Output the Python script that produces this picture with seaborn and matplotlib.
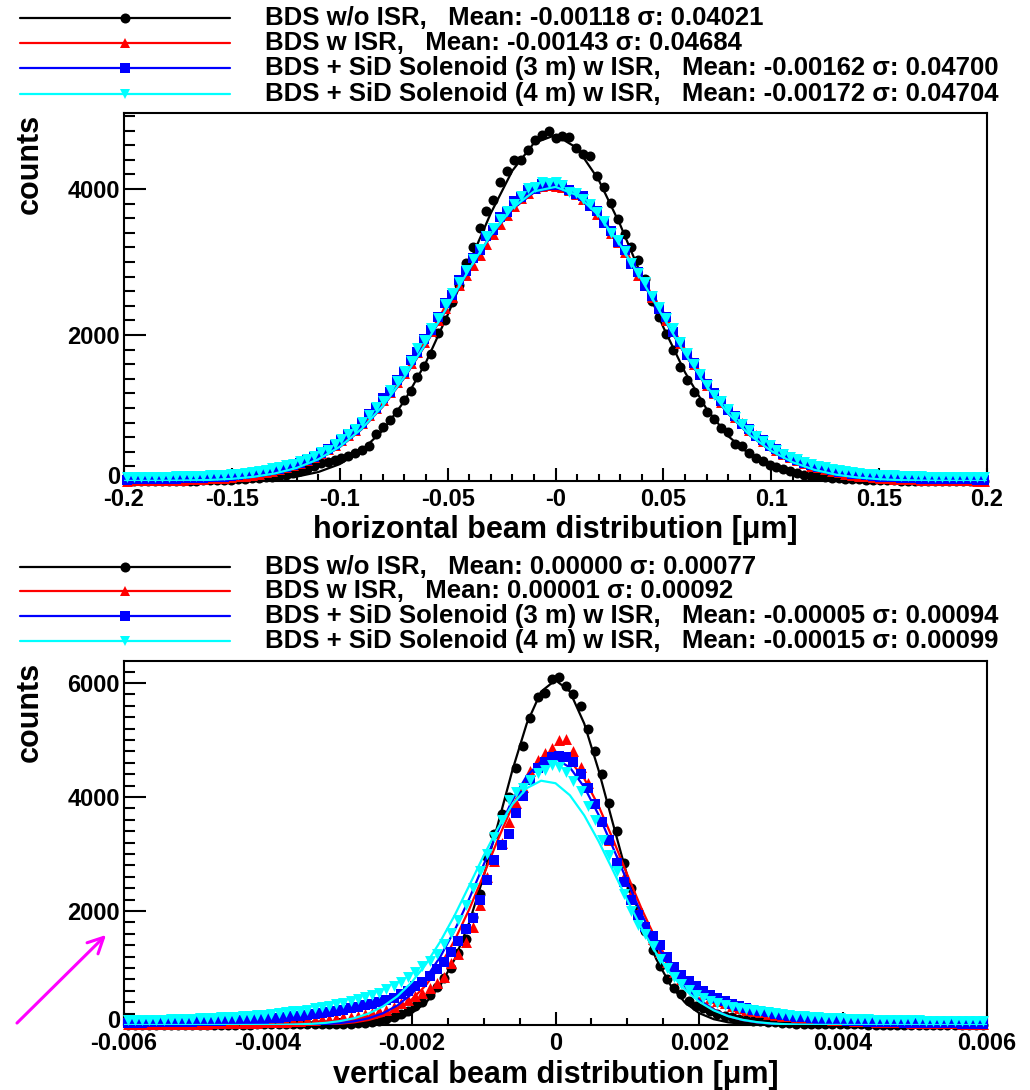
import numpy as np
import pandas as pd
import matplotlib
matplotlib.use("Agg")
import matplotlib.pyplot as plt
import matplotlib.transforms as mtransforms
import seaborn as sns
from matplotlib.lines import Line2D
from matplotlib.ticker import MultipleLocator

# ---------------- data: top panel (horizontal), 125 bins over [-0.2, 0.2] ----------------
top_black = [0, 1, 0, 2, 1, 3, 2, 4, 3, 5,
             6, 8, 9, 12, 15, 18, 24, 28, 35, 42,
             50, 60, 72, 88, 108, 135, 165, 205, 240, 265,
             290, 315, 345, 380, 425, 485, 640, 740, 835, 950,
             1110, 1230, 1430, 1570, 1740, 2030, 2200, 2450, 2680, 2980,
             3200, 3470, 3700, 3850, 4090, 4250, 4400, 4400, 4530, 4670,
             4740, 4790,
             4700, 4720, 4715, 4560, 4480, 4450, 4180, 4020, 3810, 3590,
             3380, 3200, 3030, 2760, 2470, 2240, 2010, 1790, 1560, 1380,
             1220, 1080, 940, 850, 730, 670, 510, 480, 390, 320,
             270, 220, 185, 160, 135, 105, 88, 72, 62, 55,
             45, 38, 32, 26, 21, 17, 14, 11, 9, 7,
             6, 5, 4, 3, 3, 2, 2, 1, 1, 1,
             0, 1, 0]
top_red = [6, 7, 8, 9, 10, 12, 13, 16, 19, 22,
           26, 30, 35, 41, 47, 54, 62, 72, 85, 100,
           118, 138, 160, 185, 215, 248, 285, 330, 380, 435,
           490, 555, 630, 700, 790, 900, 1000, 1110, 1220, 1350,
           1480, 1620, 1760, 1900, 2050, 2210, 2370, 2520, 2680, 2820,
           2960, 3090, 3240, 3380, 3520, 3640, 3760, 3870, 3950, 4010,
           4040, 4050,
           4040, 4030, 3980, 3930, 3860, 3780, 3660, 3560, 3400, 3280,
           3140, 2980, 2820, 2690, 2520, 2380, 2210, 2060, 1890, 1750,
           1600, 1470, 1320, 1210, 1080, 985, 870, 790, 695, 625,
           545, 490, 425, 375, 330, 290, 240, 210, 185, 160,
           138, 118, 100, 85, 73, 62, 53, 46, 40, 34,
           29, 25, 21, 18, 16, 13, 12, 10, 9, 8,
           7, 6, 6]
top_blue = [20, 21, 22, 24, 25, 27, 29, 32, 35, 38,
            41, 45, 50, 55, 61, 68, 78, 90, 105, 118,
            133, 150, 170, 192, 220, 250, 290, 335, 385, 440,
            495, 560, 650, 705, 800, 915, 1005, 1130, 1225, 1385,
            1490, 1660, 1770, 1950, 2070, 2240, 2440, 2550, 2750, 2870,
            3060, 3160, 3350, 3440, 3610, 3680, 3840, 3890, 3990, 4000,
            4070, 4060,
            4050, 4060, 3990, 3930, 3900, 3770, 3700, 3540, 3430, 3280,
            3160, 2970, 2860, 2670, 2540, 2360, 2240, 2040, 1910, 1730,
            1620, 1450, 1330, 1200, 1100, 970, 890, 775, 710, 610,
            555, 480, 435, 370, 330, 290, 250, 215, 195, 175,
            148, 130, 117, 100, 90, 78, 68, 60, 54, 50,
            46, 41, 38, 34, 31, 29, 27, 25, 23, 22,
            21, 20, 19]
top_cyan = [49, 51, 52, 54, 56, 58, 60, 62, 65, 67,
            71, 74, 78, 83, 88, 94, 102, 111, 122, 137,
            153, 172, 194, 215, 238, 272, 305, 345, 395, 430,
            505, 570, 640, 715, 810, 905, 1020, 1100, 1240, 1370,
            1500, 1640, 1820, 1935, 2090, 2230, 2420, 2570, 2730, 2890,
            3040, 3180, 3360, 3460, 3590, 3700, 3790, 3910, 4010, 4020,
            4090, 4080,
            4100, 4050, 3960, 3950, 3860, 3790, 3690, 3560, 3390, 3300,
            3150, 2990, 2850, 2720, 2530, 2380, 2230, 2090, 1900, 1750,
            1605, 1460, 1320, 1180, 1090, 980, 880, 785, 700, 620,
            550, 490, 430, 375, 335, 295, 265, 232, 210, 185,
            168, 150, 135, 120, 110, 100, 92, 86, 81, 77,
            73, 70, 67, 64, 61, 59, 57, 55, 53, 52,
            50, 49, 48]

# Gaussian fit curves of the top panel, sampled every 0.01 from -0.2 to 0.2
fit_top_black = [0, 0, 0, 1, 2, 5, 12, 28, 60, 122, 231, 413, 695, 1097, 1629, 2274, 2983,
                 3667, 4250, 4628, 4738, 4560, 4125, 3508, 2802, 2105, 1490, 988, 616, 362,
                 199, 103, 50, 23, 10, 4, 2, 1, 0, 0, 0]
fit_top_red = [1, 2, 4, 7, 15, 29, 56, 102, 177, 294, 465, 705, 1022, 1416, 1878, 2382, 2889,
               3352, 3721, 3950, 4012, 3899, 3624, 3222, 2742, 2231, 1737, 1293, 921, 627,
               409, 255, 152, 86, 48, 25, 12, 6, 3, 1, 0]
fit_top_blue = [1, 2, 4, 8, 15, 30, 57, 103, 178, 296, 467, 708, 1026, 1421, 1883, 2388, 2896,
                3359, 3729, 3958, 4020, 3906, 3631, 3228, 2747, 2235, 1740, 1296, 923, 629,
                410, 255, 153, 87, 48, 25, 12, 6, 3, 1, 0]
fit_top_cyan = [1, 2, 4, 8, 15, 30, 57, 104, 179, 297, 469, 710, 1029, 1425, 1888, 2393, 2902,
                3366, 3736, 3966, 4028, 3914, 3638, 3234, 2752, 2239, 1743, 1298, 925, 630,
                411, 256, 153, 87, 48, 25, 12, 6, 3, 1, 0]

# ---------------- data: bottom panel (vertical), 120 bins over [-0.006, 0.006] ----------------
bot_black = [2, 3, 2, 3, 3, 4, 3, 4, 4, 5,
             5, 5, 6, 6, 7, 7, 8, 8, 9, 10,
             11, 12, 12, 13, 14, 15, 15, 16, 17, 18,
             21, 25, 30, 38, 50, 70, 100, 140, 190, 250,
             330, 410, 520, 660, 820, 1000, 1260, 1500, 1900, 2300,
             2950, 3350, 3700, 4000, 4500, 4900, 5380, 5750, 5830, 6070,
             6100, 5950, 5800, 5600, 5200, 4800, 4400, 3900, 3400, 2850,
             2400, 2000, 1650, 1320, 1030, 800, 650, 540, 420, 340,
             290, 240, 200, 165, 135, 110, 90, 76, 64, 54,
             45, 38, 30, 26, 22, 19, 17, 15, 13, 12,
             11, 10, 9, 8, 8, 7, 7, 6, 6, 5,
             5, 5, 4, 4, 4, 3, 3, 3, 2, 2]
bot_red = [15, 14, 16, 15, 17, 18, 18, 20, 21, 22,
           24, 25, 27, 28, 30, 33, 35, 38, 41, 45,
           49, 54, 59, 65, 72, 80, 88, 97, 108, 120,
           133, 148, 165, 185, 210, 238, 268, 320, 380, 440,
           500, 570, 650, 740, 850, 1080, 1250, 1450, 1720, 2100,
           2600, 2880, 3200, 3560, 3900, 4180, 4450, 4650, 4770, 4860,
           5000, 5010, 4800, 4520, 4250, 3900, 3600, 3250, 2900, 2600,
           2300, 1980, 1750, 1500, 1280, 1100, 930, 800, 700, 610,
           540, 480, 420, 380, 340, 300, 270, 245, 220, 200,
           180, 165, 150, 138, 127, 117, 108, 100, 93, 86,
           80, 74, 69, 64, 60, 56, 52, 48, 45, 42,
           39, 36, 34, 32, 30, 28, 26, 24, 23, 22]
bot_blue = [38, 40, 42, 44, 46, 48, 51, 54, 57, 60,
            63, 67, 71, 76, 81, 86, 92, 98, 105, 112,
            120, 130, 140, 152, 165, 178, 192, 208, 225, 245,
            265, 290, 318, 345, 375, 405, 440, 475, 540, 600,
            680, 760, 860, 980, 1110, 1280, 1480, 1680, 1880, 2200,
            2550, 2900, 3150, 3350, 3720, 4020, 4300, 4500, 4620, 4700,
            4720, 4700, 4620, 4400, 4150, 3880, 3560, 3250, 2850, 2500,
            2200, 1930, 1720, 1560, 1400, 1200, 1010, 880, 770, 680,
            600, 530, 470, 420, 375, 335, 300, 270, 245, 220,
            200, 180, 162, 146, 132, 120, 110, 100, 92, 84,
            77, 71, 66, 61, 57, 53, 49, 46, 43, 40,
            37, 35, 33, 31, 29, 27, 25, 24, 22, 21]
bot_cyan = [80, 83, 86, 89, 93, 96, 100, 104, 108, 113,
            118, 123, 128, 134, 140, 147, 155, 163, 172, 183,
            195, 208, 222, 237, 253, 270, 290, 312, 336, 362,
            390, 420, 450, 485, 525, 570, 625, 690, 760, 840,
            930, 1030, 1120, 1240, 1420, 1620, 1850, 2100, 2400, 2700,
            3000, 3300, 3600, 3950, 4080, 4150, 4300, 4420, 4480, 4560,
            4520, 4430, 4280, 4100, 3850, 3600, 3250, 2980, 2700, 2300,
            2000, 1760, 1600, 1380, 1150, 1000, 850, 720, 620, 530,
            470, 420, 380, 345, 318, 295, 272, 255, 238, 222,
            205, 190, 177, 165, 155, 146, 138, 130, 123, 117,
            111, 106, 101, 97, 93, 90, 88, 86, 84, 82,
            80, 78, 76, 74, 72, 70, 68, 66, 64, 62]

# Gaussian fit curves of the bottom panel, sampled every 0.0002 from -0.006 to 0.006
fit_bot_black = [0, 0, 0, 0, 0, 0, 0, 0, 0, 0, 0, 0, 0, 0,
                 1, 3, 8, 20, 47, 102, 207, 394, 698, 1159, 1797, 2603, 3527, 4466, 5286, 5849,
                 6050,
                 5849, 5286, 4466, 3527, 2603, 1797, 1159, 698, 394, 207, 102, 47, 20, 8, 3, 1,
                 0, 0, 0, 0, 0, 0, 0, 0, 0, 0, 0, 0, 0, 0]
fit_bot_red = [0, 0, 0, 0, 0, 0, 0, 0, 0, 0, 0,
               1, 2, 5, 11, 23, 46, 88, 158, 272, 447, 700, 1047, 1492, 2029, 2631, 3255, 3840,
               4321, 4639,
               4750,
               4639, 4321, 3840, 3255, 2631, 2029, 1492, 1047, 700, 447, 272, 158, 88, 46, 23,
               11, 5, 2, 1,
               0, 0, 0, 0, 0, 0, 0, 0, 0, 0, 0]
fit_bot_blue = [0, 0, 0, 0, 0, 0, 0, 0, 0, 0,
                1, 2, 4, 8, 17, 34, 65, 118, 205, 342, 544, 827, 1201, 1668, 2214, 2810, 3403,
                3944, 4367, 4621,
                4673,
                4517, 4173, 3685, 3110, 2512, 1936, 1424, 1001, 675, 434, 267, 157, 88, 47, 24,
                12, 6, 3, 1, 0,
                0, 0, 0, 0, 0, 0, 0, 0, 0, 0]
fit_bot_cyan = [0, 0, 0, 0, 0, 0, 0, 0, 0,
                1, 2, 5, 10, 20, 37, 68, 119, 200, 325, 503, 749, 1070, 1468, 1929, 2444, 2967,
                3456, 3869, 4155, 4285,
                4241,
                4030, 3677, 3221, 2709, 2185, 1692, 1258, 899, 617, 406, 256, 155, 91, 51, 27,
                14, 7, 3, 2, 1,
                0, 0, 0, 0, 0, 0, 0, 0, 0, 0]

series_names = ["BDS w/o ISR", "BDS w ISR",
                "BDS + SiD Solenoid (3 m) w ISR", "BDS + SiD Solenoid (4 m) w ISR"]
top_means = ["-0.00118", "-0.00143", "-0.00162", "-0.00172"]
top_sigmas = ["0.04021", "0.04684", "0.04700", "0.04704"]
bot_means = ["0.00000", "0.00001", "-0.00005", "-0.00015"]
bot_sigmas = ["0.00077", "0.00092", "0.00094", "0.00099"]

top_xticks = [-0.2, -0.15, -0.1, -0.05, 0.0, 0.05, 0.1, 0.15, 0.2]
top_xticklabels = ["-0.2", "-0.15", "-0.1", "-0.05", "-0", "0.05", "0.1", "0.15", "0.2"]
bot_xticks = [-0.006, -0.004, -0.002, 0.0, 0.002, 0.004, 0.006]
bot_xticklabels = ["-0.006", "-0.004", "-0.002", "0", "0.002", "0.004", "0.006"]
top_yticks = [0, 2000, 4000]
bot_yticks = [0, 2000, 4000, 6000]

# ---------------- binning (positions) ----------------
top_edges = np.linspace(-0.2, 0.2, len(top_black) + 1)
top_x = 0.5 * (top_edges[1:] + top_edges[:-1])
bot_edges = np.linspace(-0.006, 0.006, len(bot_black) + 1)
bot_x = 0.5 * (bot_edges[1:] + bot_edges[:-1])
top_fit_x = np.linspace(-0.2, 0.2, len(fit_top_black))
bot_fit_x = np.linspace(-0.006, 0.006, len(fit_bot_black))

# ---------------- style ----------------
sns.set_theme(style="white")
plt.rcParams["font.family"] = ["Liberation Sans", "DejaVu Sans"]
plt.rcParams["font.weight"] = "bold"
plt.rcParams["axes.linewidth"] = 1.5
plt.rcParams["text.color"] = "black"

W, H = 1030, 1090
fig = plt.figure(figsize=(W / 100, H / 100), dpi=100)
fig.patch.set_facecolor("white")


def fx(px):
    return px / W


def fy(py):
    return 1.0 - py / H


colors = ["#000000", "#ff0000", "#0000ff", "#00ffff"]
markers = ["o", "^", "s", "v"]
msizes = [52, 62, 42, 62]


def panel(ax, xc, ys, xf, fits, xlim, ylim, xticks, xticklabels, xminor, yticks):
    for i, (y, f) in enumerate(zip(ys, fits)):
        d = pd.DataFrame({"x": xc, "y": y})
        sns.scatterplot(data=d, x="x", y="y", ax=ax, color=colors[i], marker=markers[i],
                        s=msizes[i], linewidth=0, zorder=3 + 2 * i, clip_on=False, legend=False)
        df = pd.DataFrame({"x": xf, "y": f})
        sns.lineplot(data=df, x="x", y="y", ax=ax, color=colors[i], linewidth=1.6,
                     zorder=4 + 2 * i, legend=False, estimator=None)
    ax.set_xlim(*xlim)
    ax.set_ylim(*ylim)
    ax.set_xticks(xticks, labels=xticklabels)
    ax.set_yticks(yticks, labels=[str(v) for v in yticks])
    ax.xaxis.set_minor_locator(MultipleLocator(xminor))
    ax.yaxis.set_minor_locator(MultipleLocator(200))
    ax.set_xlabel("")
    ax.set_ylabel("")
    ax.set_facecolor("white")
    for sp in ax.spines.values():
        sp.set_color("black")
        sp.set_linewidth(1.5)
        sp.set_zorder(2)
    ax.tick_params(axis="both", which="both", direction="in", top=False, right=False,
                   bottom=True, left=True, width=1.5, color="black", labelcolor="black",
                   labelsize=17)
    ax.tick_params(axis="x", which="major", length=9.5, pad=5)
    ax.tick_params(axis="x", which="minor", length=5)
    ax.tick_params(axis="y", which="major", length=16, pad=3)
    ax.tick_params(axis="y", which="minor", length=8)
    for lab in ax.get_xticklabels() + ax.get_yticklabels():
        lab.set_fontweight("bold")
    # lift the y "0" label slightly so it does not sit on the first x label
    ylabs = ax.get_yticklabels()
    ylabs[0].set_transform(ylabs[0].get_transform() +
                           mtransforms.ScaledTranslation(0, 4 / 72, fig.dpi_scale_trans))


ax_top = fig.add_axes([fx(124), fy(481), fx(987) - fx(124), fy(113) - fy(481)])
ax_bot = fig.add_axes([fx(124), fy(1025), fx(987) - fx(124), fy(661) - fy(1025)])

panel(ax_top, top_x, [top_black, top_red, top_blue, top_cyan], top_fit_x,
      [fit_top_black, fit_top_red, fit_top_blue, fit_top_cyan],
      (-0.2, 0.2), (0, 5040), top_xticks, top_xticklabels, 0.01, top_yticks)
panel(ax_bot, bot_x, [bot_black, bot_red, bot_blue, bot_cyan], bot_fit_x,
      [fit_bot_black, fit_bot_red, fit_bot_blue, fit_bot_cyan],
      (-0.006, 0.006), (0, 6385), bot_xticks, bot_xticklabels, 0.0005, bot_yticks)


def legend(rows_y, means, sigmas):
    for i, py in enumerate(rows_y):
        ln = Line2D([fx(20), fx(125), fx(230)], [fy(py)] * 3, transform=fig.transFigure,
                    color=colors[i], lw=1.6, marker=markers[i], markevery=[1],
                    markersize=np.sqrt(msizes[i]), markeredgewidth=0)
        fig.add_artist(ln)
        text = f"{series_names[i]},   Mean: {means[i]} \u03c3: {sigmas[i]}"
        fig.text(fx(265), fy(py), text, fontsize=18.5, fontweight="bold",
                 ha="left", va="center", color="black")


legend([18, 43, 68, 94], top_means, top_sigmas)
legend([567, 591, 616, 641], bot_means, bot_sigmas)

fig.text(fx(555.5), fy(530), "horizontal beam distribution [\u03bcm]", fontsize=22,
         fontweight="bold", ha="center", va="center", color="black")
fig.text(fx(555.5), fy(1075), "vertical beam distribution [\u03bcm]", fontsize=22,
         fontweight="bold", ha="center", va="center", color="black")
fig.text(fx(30), fy(114), "counts", rotation=90, fontsize=22, fontweight="bold",
         ha="center", va="top", color="black")
fig.text(fx(30), fy(662), "counts", rotation=90, fontsize=22, fontweight="bold",
         ha="center", va="top", color="black")

# magenta arrow annotation
ax_bot.annotate("", xy=(108, H - 933), xycoords="figure pixels",
                xytext=(15, H - 1025), textcoords="figure pixels",
                arrowprops=dict(arrowstyle="->", color="#ff00ff", lw=2.2, mutation_scale=28),
                annotation_clip=False)

fig.savefig("out.png", dpi=100, facecolor="white")
